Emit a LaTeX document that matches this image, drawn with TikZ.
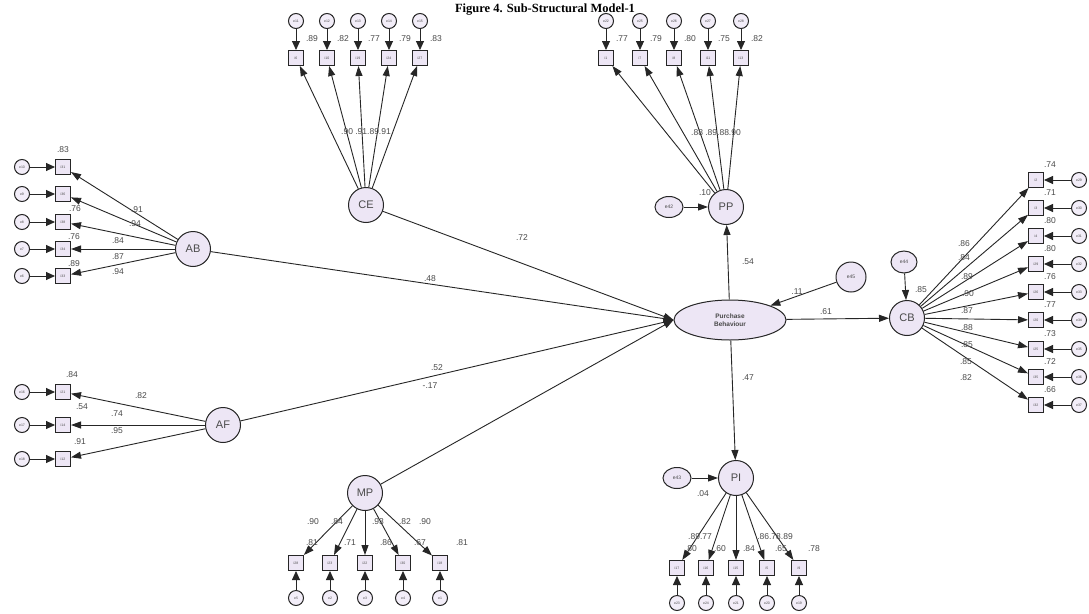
\documentclass[tikz,border=0pt]{standalone}
\usepackage{fontspec}
\setmainfont{Liberation Serif}
\newfontfamily\sansf{Liberation Sans}
\usetikzlibrary{arrows.meta,shapes.geometric}
\definecolor{lav}{HTML}{EDE6F5}
\definecolor{edgec}{HTML}{262626}
\definecolor{txtc}{HTML}{4A4A4A}
\begin{document}
\begin{tikzpicture}[x=1pt,y=-1pt,
 lat/.style={circle, draw=edgec, line width=1pt, fill=lav, minimum size=35pt, inner sep=0pt, font=\sansf\fontsize{11}{11}\selectfont, text=txtc},
 err/.style={circle, draw=edgec, line width=1pt, fill=lav!70, minimum size=15pt, inner sep=0pt, font=\sansf\fontsize{3.5}{3.5}\selectfont, text=txtc},
 dist/.style={ellipse, draw=edgec, line width=1pt, fill=lav, inner sep=0pt, font=\sansf\fontsize{5}{5}\selectfont, text=txtc},
 ind/.style={rectangle, draw=edgec, line width=1pt, fill=lav, minimum size=15pt, inner sep=0pt, font=\sansf\fontsize{3.5}{3.5}\selectfont, text=txtc},
 reg/.style={draw=edgec, line width=0.9pt, -{Triangle[length=10pt,width=7pt]}},
 erra/.style={draw=edgec, line width=0.9pt, -{Triangle[length=9pt,width=8pt]}},
 lbl/.style={font=\sansf\fontsize{8.5}{8.5}\selectfont, text=txtc, inner sep=0.5pt},
]
\fill[white] (0,0) rectangle (1089,613);
\useasboundingbox (0,0) rectangle (1089,613);

\node[font=\bfseries\fontsize{12.5}{12.5}\selectfont] (title) at (545,9.5) {Figure 4. Sub-Structural Model-1};

% latent variables
\node[lat] (CE) at (366,205) {CE};
\node[lat] (PP) at (726,207) {PP};
\node[lat] (AB) at (193,249) {AB};
\node[lat] (AF) at (223,425) {AF};
\node[lat] (MP) at (365,493) {MP};
\node[lat] (PI) at (736,478) {PI};
\node[lat] (CB) at (907,318) {CB};
\node[ellipse, draw=edgec, line width=1pt, fill=lav, minimum width=112pt, minimum height=40pt, inner sep=0pt, align=center, font=\sansf\bfseries\fontsize{6.5}{7.5}\selectfont, text=txtc] (PB) at (730,320) {Purchase\\Behaviour};

% disturbances
\node[dist, minimum width=28pt, minimum height=21pt] (e42) at (669,207) {e42};
\node[dist, minimum width=28pt, minimum height=21pt] (e43) at (677,478) {e43};
\node[dist, minimum width=26pt, minimum height=22pt] (e44) at (904,262) {e44};
\node[dist, minimum width=30pt, minimum height=30pt] (e45) at (851,277) {e45};

% CE indicators
\foreach \xx/\ee/\ii/\qq [count=\k] in {296/e11/i6/.89,327/e12/i10/.82,358/e13/i19/.77,389/e14/i24/.79,420/e15/i27/.83}{
 \node[err] (cee\k) at (\xx,21) {\ee};
 \node[ind] (cei\k) at (\xx,58) {\ii};
 \draw[erra] (cee\k) -- (cei\k);
 \draw[reg] (CE) -- (cei\k);
 \node[lbl] (cer\k) at (\xx+16,39) {\qq};
}
\node[lbl] (cel) at (366,132) {.90 .91.89.91};

% PP indicators
\foreach \xx/\ee/\ii/\qq [count=\k] in {606/e22/i1/.77,640/e25/i7/.79,674/e26/i8/.80,708/e27/i11/.75,741/e28/i13/.82}{
 \node[err] (ppe\k) at (\xx,21) {\ee};
 \node[ind] (ppi\k) at (\xx,58) {\ii};
 \draw[erra] (ppe\k) -- (ppi\k);
 \draw[reg] (PP) -- (ppi\k);
 \node[lbl] (ppr\k) at (\xx+16,39) {\qq};
}
\node[lbl] (ppl) at (716,133) {.88 .89.88.90};
\draw[reg] (e42) -- (PP);
\node[lbl] (l10) at (705,193) {.10};

% AB indicators
\foreach \yy/\ee/\ii [count=\k] in {167/e10/i31,194/e9/i36,222/e8/i38,249/e7/i34,276/e6/i33}{
 \node[err] (abe\k) at (22,\yy) {\ee};
 \node[ind] (abi\k) at (63,\yy) {\ii};
 \draw[erra] (abe\k) -- (abi\k);
 \draw[reg] (AB) -- (abi\k);
}
\node[lbl] (abr1) at (63,150) {.83};
\node[lbl] (abr3) at (75,209) {.76};
\node[lbl] (abr4) at (74,237) {.76};
\node[lbl] (abr5) at (74,264) {.89};
\node[lbl] (abl1) at (137,210) {.91};
\node[lbl] (abl2) at (135,224) {.94};
\node[lbl] (abl3) at (118,241) {.84};
\node[lbl] (abl4) at (118,257) {.87};
\node[lbl] (abl5) at (118,272) {.94};

% AF indicators
\foreach \yy/\ee/\ii [count=\k] in {392/e16/i21,425/e17/i14,459/e18/i12}{
 \node[err] (afe\k) at (22,\yy) {\ee};
 \node[ind] (afi\k) at (63,\yy) {\ii};
 \draw[erra] (afe\k) -- (afi\k);
 \draw[reg] (AF) -- (afi\k);
}
\node[lbl] (afr1) at (72,375) {.84};
\node[lbl] (afr2) at (82,407) {.54};
\node[lbl] (afr3) at (80,442) {.91};
\node[lbl] (afl1) at (141,396) {.82};
\node[lbl] (afl2) at (117,414) {.74};
\node[lbl] (afl3) at (117,431) {.95};

% CB indicators
\foreach \yy/\ee/\ii/\qq [count=\k] in {180/e29/i2/.74,208/e30/i3/.71,236/e31/i4/.80,264/e32/i29/.80,292/e33/i26/.76,320/e34/i20/.77,349/e35/i25/.73,377/e36/i35/.72,405/e37/i32/.66}{
 \node[err] (cbe\k) at (1079,\yy) {\ee};
 \node[ind] (cbi\k) at (1036,\yy) {\ii};
 \draw[erra] (cbe\k) -- (cbi\k);
 \draw[reg] (CB) -- (cbi\k);
 \node[lbl] (cbr\k) at (1050,\yy-15) {\qq};
}
\foreach \xx/\yy/\qq [count=\k] in {964/244/.86,964/258/.84,967/277/.89,968/294/.90,967/311/.87,967/328/.88,967/345/.85,966/362/.85,966/378/.82}{
 \node[lbl] (cbl\k) at (\xx,\yy) {\qq};
}
\draw[reg] (e44) -- (CB);
\node[lbl] (l85) at (921,290) {.85};

% MP indicators
\foreach \xx/\ee/\ii [count=\k] in {296/e5/i28,330/e2/i23,365/e3/i22,403/e4/i30,440/e1/i18}{
 \node[ind] (mpi\k) at (\xx,563) {\ii};
 \node[err] (mpe\k) at (\xx,598) {\ee};
 \draw[erra] (mpe\k) -- (mpi\k);
 \draw[reg] (MP) -- (mpi\k);
}
\foreach \xx/\qq [count=\k] in {313/.90,337/.84,378/.93,405/.82,425/.90}{
 \node[lbl] (mpl\k) at (\xx,522) {\qq};
}
\foreach \xx/\qq [count=\k] in {312/.81,350/.71,386/.86,420/.67,462/.81}{
 \node[lbl] (mpr\k) at (\xx,543) {\qq};
}

% PI indicators
\foreach \xx/\ee/\ii [count=\k] in {677/e23/i17,706/e24/i16,736/e21/i15,767/e20/i5,799/e19/i9}{
 \node[ind] (pii\k) at (\xx,568) {\ii};
 \node[err] (pie\k) at (\xx,603) {\ee};
 \draw[erra] (pie\k) -- (pii\k);
 \draw[reg] (PI) -- (pii\k);
}
\node[lbl] (pil1) at (700,537) {.89.77};
\node[lbl] (pil2) at (775,537) {.86.78.89};
\foreach \xx/\qq [count=\k] in {691/.80,720/.60,749/.84,781/.65,814/.78}{
 \node[lbl] (pir\k) at (\xx,549) {\qq};
}
\draw[reg] (e43) -- (PI);
\node[lbl] (l04) at (703,494) {.04};

% structural paths
\draw[reg] (CE) -- (PB.west);
\node[lbl] (l72) at (522,238) {.72};
\draw[reg] (AB) -- (PB.west);
\node[lbl] (l48) at (430,279) {.48};
\draw[reg] (AF) -- (PB.west);
\node[lbl] (l52) at (437,368) {.52};
\draw[reg] (MP) -- (PB.west);
\node[lbl] (l17) at (430,386) {-.17};
\draw[reg] (PB) -- (PP);
\node[lbl] (l54) at (748,262) {.54};
\draw[reg] (PB) -- (PI);
\node[lbl] (l47) at (748,378) {.47};
\draw[reg] (PB) -- (CB);
\node[lbl] (l61) at (826,312) {.61};
\draw[reg] (e45) -- (PB);
\node[lbl] (l11) at (797,292) {.11};
\end{tikzpicture}
\end{document}
